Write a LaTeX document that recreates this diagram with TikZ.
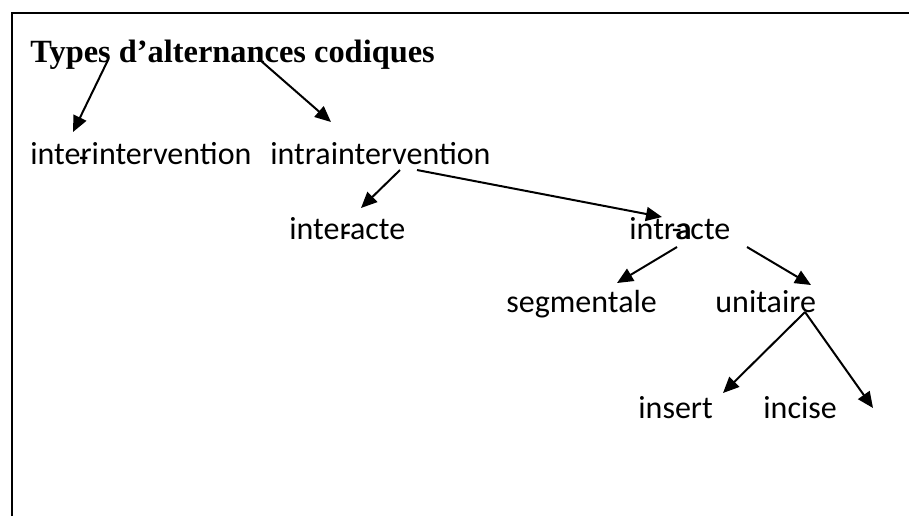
\documentclass[tikz,border=0pt]{standalone}
\usepackage{fontspec}
\setmainfont{Carlito}
\newfontfamily\titlefont{Liberation Serif}
\usetikzlibrary{arrows.meta}

\tikzset{
	lbl/.style={anchor=base west, inner sep=0pt, font=\fontsize{16}{19}\selectfont},
	ttl/.style={anchor=base west, inner sep=0pt, font=\titlefont\bfseries\fontsize{16.2}{19}\selectfont},
	arr/.style={line width=1pt, -{Triangle[length=8pt, width=7pt]}},
	frame/.style={line width=1pt}
}

\begin{document}
\begin{tikzpicture}[x=0.5pt, y=-0.5pt]
			\useasboundingbox (0, 0) rectangle (909, 516);
			\draw [frame] (12, 516) -- (12, 13) -- (912, 13);
			\node [ttl] (title) at (30, 62) {Types d’alternances codiques};
			\node [lbl] (inter) at (30, 164) {inte\rlap{\raisebox{-0.25ex}{\kern-0.05em-}}rintervention};
			\node [lbl] (intra) at (270, 164) {intraintervention};
			\node [lbl] (interacte) at (289, 239) {inte\rlap{\raisebox{-0.25ex}{\kern0.05em-}}racte};
			\node [lbl] (intraacte) at (629, 239) {intr\rlap{\kern-0.1em-}\rlap{\kern0.05em a}acte};
			\node [lbl] (segm) at (506, 312) {segmentale};
			\node [lbl] (unit) at (715, 312) {unitaire};
			\node [lbl] (insert) at (638, 418) {insert};
			\node [lbl] (incise) at (763, 418) {incise};
			\coordinate (free) at (873, 408);
			\draw [arr] ([shift={(78,-2)}]title.base west) -- ([shift={(43,-32)}]inter.base west);
			\draw [arr] ([shift={(230,-2)}]title.base west) -- ([shift={(61,-42)}]intra.base west);
			\draw [arr] ([shift={(130,6)}]intra.base west) -- ([shift={(72,-31)}]interacte.base west);
			\draw [arr] ([shift={(147,6)}]intra.base west) -- ([shift={(33,-22)}]intraacte.base west);
			\draw [arr] ([shift={(48,8)}]intraacte.base west) -- ([shift={(111,-29)}]segm.base west);
			\draw [arr] ([shift={(118,8)}]intraacte.base west) -- ([shift={(96,-27)}]unit.base west);
			\draw [arr] ([shift={(90,0)}]unit.base west) -- ([shift={(85,-25)}]insert.base west);
			\draw [arr] ([shift={(90,0)}]unit.base west) -- (free);
		\end{tikzpicture}
\end{document}
